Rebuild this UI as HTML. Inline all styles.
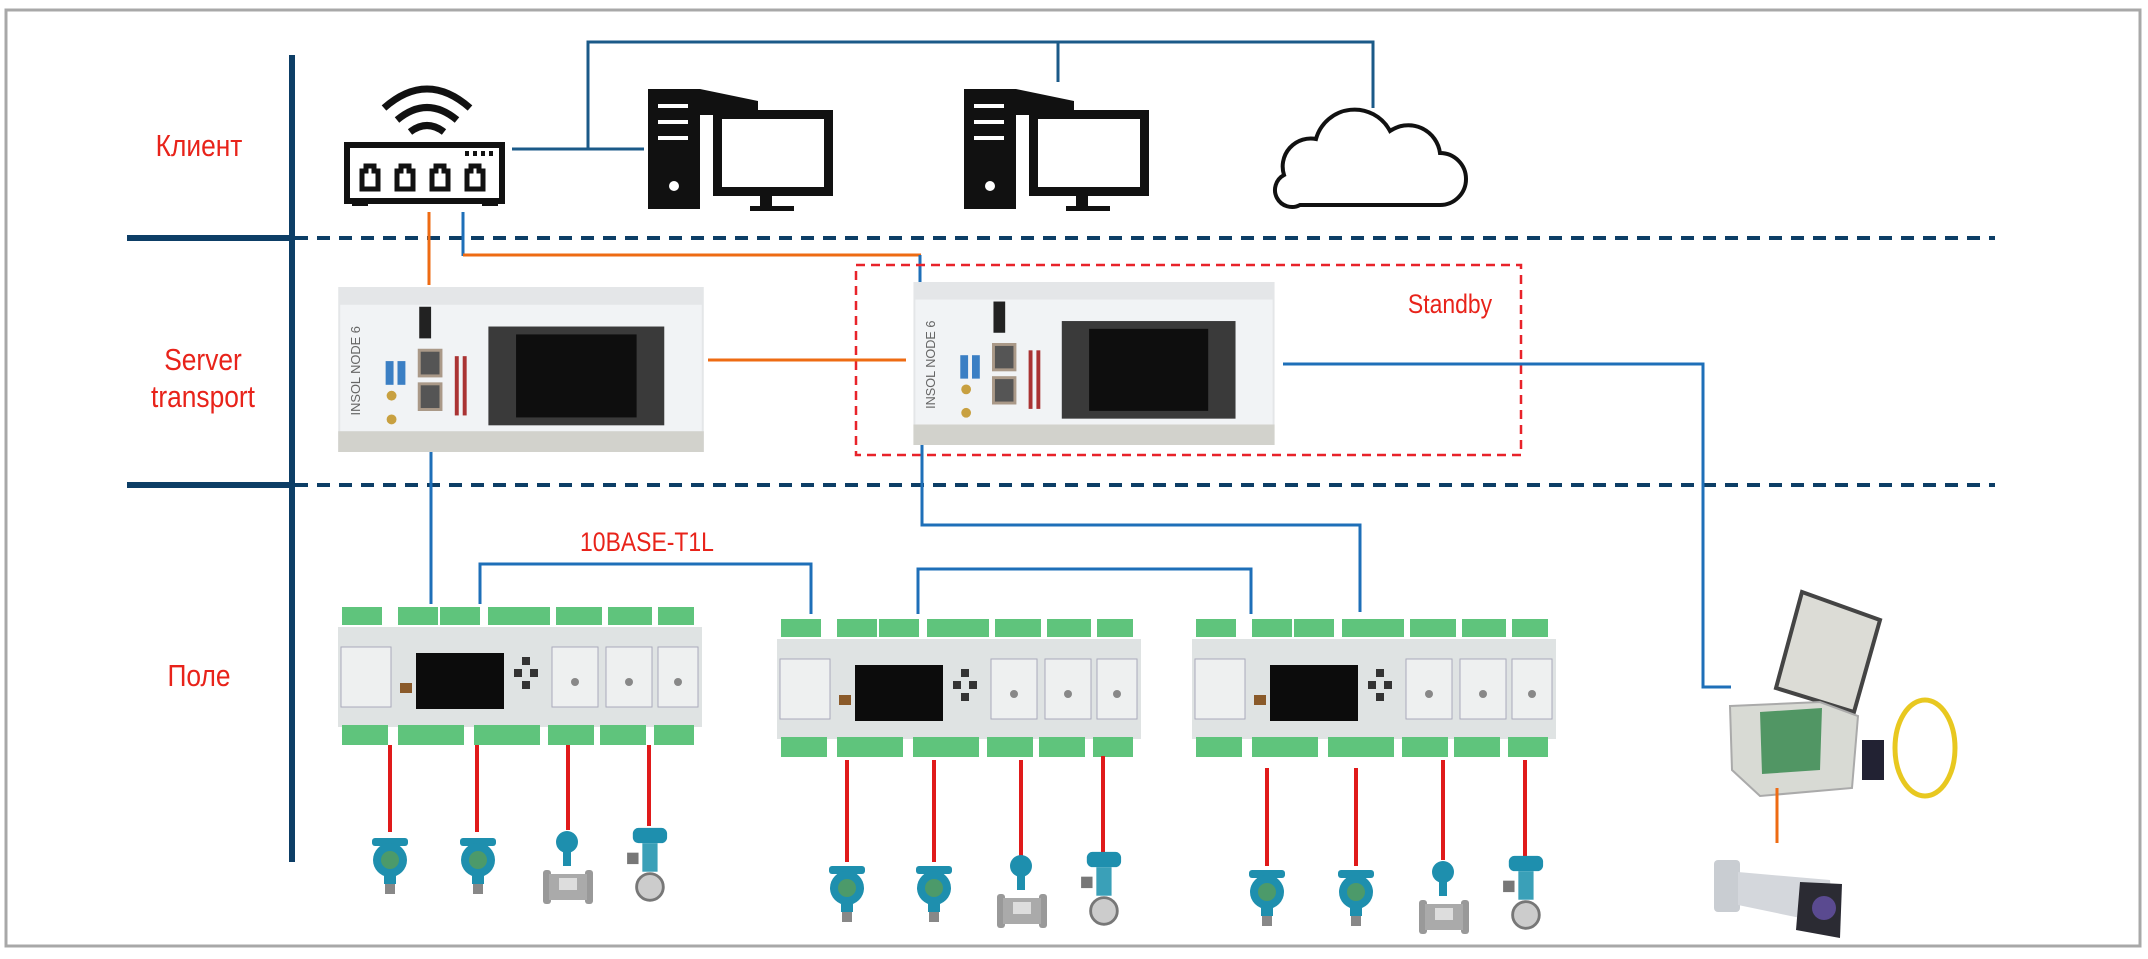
<!DOCTYPE html>
<html><head><meta charset="utf-8"><style>
html,body{margin:0;padding:0;background:#fff}
svg{display:block}
.lbl{font-family:"Liberation Sans",sans-serif;fill:#e8231a;font-size:31px}
</style></head><body>
<svg width="2148" height="959" viewBox="0 0 2148 959" xmlns="http://www.w3.org/2000/svg">
<defs>
<symbol id="plc" viewBox="0 0 364 140">
  <rect x="0" y="20" width="364" height="100" fill="#dfe3e3"/>
  <g fill="#5fc47c">
    <rect x="4" y="0" width="40" height="18"/><rect x="60" y="0" width="40" height="18"/><rect x="102" y="0" width="40" height="18"/>
    <rect x="150" y="0" width="62" height="18"/><rect x="218" y="0" width="46" height="18"/><rect x="270" y="0" width="44" height="18"/><rect x="320" y="0" width="36" height="18"/>
    <rect x="4" y="118" width="46" height="20"/><rect x="60" y="118" width="66" height="20"/><rect x="136" y="118" width="66" height="20"/>
    <rect x="210" y="118" width="46" height="20"/><rect x="262" y="118" width="46" height="20"/><rect x="316" y="118" width="40" height="20"/>
  </g>
  <g fill="#eef0f0" stroke="#aab" stroke-width="1">
    <rect x="3" y="40" width="50" height="60"/><rect x="214" y="40" width="46" height="60"/><rect x="268" y="40" width="46" height="60"/><rect x="320" y="40" width="40" height="60"/>
  </g>
  <rect x="78" y="46" width="88" height="56" fill="#0c0c0c"/>
  <g fill="#333"><rect x="184" y="50" width="8" height="8"/><rect x="176" y="62" width="8" height="8"/><rect x="192" y="62" width="8" height="8"/><rect x="184" y="74" width="8" height="8"/></g>
  <rect x="62" y="76" width="12" height="10" fill="#8a5a2a"/>
  <g fill="#888"><circle cx="237" cy="75" r="4"/><circle cx="291" cy="75" r="4"/><circle cx="340" cy="75" r="4"/></g>
</symbol>
<symbol id="trans" viewBox="0 0 44 64">
  <rect x="4" y="6" width="36" height="8" rx="3" fill="#1e8fae"/>
  <circle cx="22" cy="28" r="17" fill="#1e8fae"/><circle cx="22" cy="28" r="9" fill="#4c9a6a"/>
  <rect x="16" y="44" width="12" height="8" fill="#1e8fae"/><rect x="17" y="52" width="10" height="10" fill="#888"/>
</symbol>
<symbol id="flow" viewBox="0 0 56 80">
  <circle cx="26" cy="14" r="11" fill="#1e8fae"/><rect x="22" y="24" width="8" height="14" fill="#1e8fae"/>
  <rect x="2" y="42" width="8" height="34" rx="3" fill="#999"/><rect x="44" y="42" width="8" height="34" rx="3" fill="#999"/>
  <rect x="8" y="46" width="38" height="26" fill="#aaa"/><rect x="18" y="50" width="18" height="12" fill="#ddd"/>
</symbol>
<symbol id="valve" viewBox="0 0 50 84">
  <rect x="8" y="2" width="36" height="16" rx="6" fill="#1e8fae"/><rect x="18" y="18" width="16" height="30" fill="#3aa0b8"/>
  <rect x="2" y="28" width="12" height="12" fill="#777"/><circle cx="26" cy="64" r="14" fill="#ccc" stroke="#777" stroke-width="3"/>
</symbol>
<symbol id="server" viewBox="0 0 370 167">
  <rect x="0" y="0" width="370" height="167" fill="#e4e6e8"/>
  <rect x="2" y="18" width="366" height="128" fill="#f1f3f5"/>
  <rect x="0" y="146" width="370" height="21" fill="#d2d2cc"/>
  <text x="22" y="130" transform="rotate(-90 22 130)" font-family="Liberation Sans,sans-serif" font-size="13" fill="#666">INSOL NODE 6</text>
  <rect x="82" y="20" width="12" height="32" fill="#222"/>
  <rect x="48" y="75" width="8" height="24" fill="#3b7fc4"/><rect x="60" y="75" width="8" height="24" fill="#3b7fc4"/>
  <rect x="82" y="64" width="22" height="26" fill="#555" stroke="#a98" stroke-width="3"/>
  <rect x="82" y="98" width="22" height="26" fill="#555" stroke="#a98" stroke-width="3"/>
  <circle cx="54" cy="110" r="5" fill="#c8a040"/><circle cx="54" cy="134" r="5" fill="#c8a040"/>
  <g fill="#a33"><rect x="118" y="70" width="4" height="60"/><rect x="126" y="70" width="4" height="60"/></g>
  <rect x="152" y="40" width="178" height="100" fill="#3a3a3a"/>
  <rect x="180" y="48" width="122" height="84" fill="#0e0e0e"/>
</symbol>
</defs>

<rect x="6" y="10" width="2134" height="936" fill="#fff" stroke="#a8a8a8" stroke-width="3"/>

<line x1="292" y1="55" x2="292" y2="862" stroke="#0d3e66" stroke-width="6"/>
<line x1="127" y1="238" x2="292" y2="238" stroke="#0d3e66" stroke-width="6"/>
<line x1="127" y1="485" x2="292" y2="485" stroke="#0d3e66" stroke-width="6"/>
<line x1="295" y1="238" x2="1995" y2="238" stroke="#0d3e66" stroke-width="4" stroke-dasharray="13,9"/>
<line x1="295" y1="485" x2="1995" y2="485" stroke="#0d3e66" stroke-width="4" stroke-dasharray="13,9"/>

<text class="lbl" x="199" y="156" text-anchor="middle" transform="translate(199 0) scale(0.85 1) translate(-199 0)">Клиент</text>
<text class="lbl" x="203" y="370" text-anchor="middle" transform="translate(203 0) scale(0.85 1) translate(-203 0)">Server</text>
<text class="lbl" x="203" y="407" text-anchor="middle" transform="translate(203 0) scale(0.85 1) translate(-203 0)">transport</text>
<text class="lbl" x="199" y="686" text-anchor="middle" transform="translate(199 0) scale(0.85 1) translate(-199 0)">Поле</text>

<g stroke="#1b5a88" stroke-width="3" fill="none">
  <polyline points="512,149 644,149"/>
  <polyline points="588,149 588,42 1373,42 1373,108"/>
  <line x1="1058" y1="42" x2="1058" y2="82"/>
</g>

<g>
  <path d="M384 108 q43 -38 86 0" stroke="#111" stroke-width="7" fill="none"/>
  <path d="M397 120 q30 -25 60 0" stroke="#111" stroke-width="7" fill="none"/>
  <path d="M410 132 q17 -13 34 0" stroke="#111" stroke-width="7" fill="none"/>
  <rect x="347" y="145" width="155" height="56" fill="#fff" stroke="#111" stroke-width="6"/>
  <rect x="352" y="200" width="16" height="6" fill="#111"/><rect x="482" y="200" width="16" height="6" fill="#111"/>
  <g fill="#111"><rect x="465" y="151" width="4" height="5"/><rect x="473" y="151" width="4" height="5"/><rect x="481" y="151" width="4" height="5"/><rect x="489" y="151" width="4" height="5"/></g>
  <g fill="none" stroke="#111" stroke-width="5">
    <path d="M362 189 v-18 h4 v-5 h8 v5 h4 v18 z"/><path d="M397 189 v-18 h4 v-5 h8 v5 h4 v18 z"/>
    <path d="M432 189 v-18 h4 v-5 h8 v5 h4 v18 z"/><path d="M467 189 v-18 h4 v-5 h8 v5 h4 v18 z"/>
  </g>
</g>

<g id="pc1">
  <rect x="648" y="89" width="52" height="120" fill="#111"/>
  <polygon points="700,89 758,101 758,115 700,115" fill="#111"/>
  <rect x="713" y="110" width="120" height="86" fill="#111"/><rect x="722" y="119" width="102" height="68" fill="#fff"/>
  <rect x="760" y="196" width="12" height="12" fill="#111"/><rect x="750" y="206" width="44" height="5" fill="#111"/>
  <g fill="#fff"><rect x="658" y="104" width="30" height="4"/><rect x="658" y="120" width="30" height="4"/><rect x="658" y="136" width="30" height="4"/><circle cx="674" cy="186" r="5"/></g>
</g>
<use href="#pc1" transform="translate(316 0)"/>

<path d="M1300 205 h140 a26 26 0 0 0 0 -52 a32 32 0 0 0 -50 -22 a40 40 0 0 0 -74 8 a28 28 0 0 0 -32 36 a16 16 0 0 0 16 30 z" fill="#fff" stroke="#111" stroke-width="4"/>

<line x1="429" y1="212" x2="429" y2="285" stroke="#ee6b13" stroke-width="3"/>
<line x1="463" y1="212" x2="463" y2="256" stroke="#1e6fb8" stroke-width="3"/>
<line x1="463" y1="255" x2="921" y2="255" stroke="#ee6b13" stroke-width="3"/>
<line x1="920" y1="255" x2="920" y2="290" stroke="#1e6fb8" stroke-width="3"/>

<use href="#server" x="336" y="287" width="370" height="165"/>
<use href="#server" x="908" y="282" width="372" height="163"/>
<rect x="856" y="265" width="665" height="190" fill="none" stroke="#e8232a" stroke-width="2.5" stroke-dasharray="9,6"/>
<text x="1450" y="313" class="lbl" style="font-size:27px" text-anchor="middle" transform="translate(1450 0) scale(0.85 1) translate(-1450 0)">Standby</text>
<line x1="708" y1="360" x2="906" y2="360" stroke="#ee6b13" stroke-width="3"/>

<g stroke="#1e6fb8" stroke-width="3" fill="none">
  <polyline points="1283,364 1703,364 1703,687 1731,687"/>
  <line x1="431" y1="452" x2="431" y2="604"/>
  <polyline points="922,445 922,525 1360,525 1360,612"/>
  <polyline points="480,604 480,564 811,564 811,614"/>
  <polyline points="918,614 918,569 1251,569 1251,614"/>
</g>
<text x="647" y="551" class="lbl" style="font-size:27px" text-anchor="middle" transform="translate(647 0) scale(0.85 1) translate(-647 0)">10BASE-T1L</text>

<use href="#plc" x="338" y="607" width="364" height="140"/>
<use href="#plc" x="777" y="618" width="364" height="142"/>
<use href="#plc" x="1192" y="618" width="364" height="142"/>

<g stroke="#e01a1a" stroke-width="4">
  <line x1="390" y1="745" x2="390" y2="832"/><line x1="477" y1="745" x2="477" y2="832"/>
  <line x1="568" y1="745" x2="568" y2="830"/><line x1="649" y1="745" x2="649" y2="826"/>
  <line x1="847" y1="760" x2="847" y2="862"/><line x1="934" y1="760" x2="934" y2="862"/>
  <line x1="1021" y1="760" x2="1021" y2="856"/><line x1="1103" y1="756" x2="1103" y2="852"/>
  <line x1="1267" y1="768" x2="1267" y2="866"/><line x1="1356" y1="768" x2="1356" y2="866"/>
  <line x1="1443" y1="760" x2="1443" y2="860"/><line x1="1525" y1="760" x2="1525" y2="856"/>
</g>

<use href="#trans" x="368" y="832" width="44" height="64"/>
<use href="#trans" x="456" y="832" width="44" height="64"/>
<use href="#flow" x="541" y="828" width="56" height="80"/>
<use href="#valve" x="624" y="826" width="50" height="80"/>
<use href="#trans" x="825" y="860" width="44" height="64"/>
<use href="#trans" x="912" y="860" width="44" height="64"/>
<use href="#flow" x="995" y="852" width="56" height="80"/>
<use href="#valve" x="1078" y="850" width="50" height="80"/>
<use href="#trans" x="1245" y="864" width="44" height="64"/>
<use href="#trans" x="1334" y="864" width="44" height="64"/>
<use href="#flow" x="1417" y="858" width="56" height="80"/>
<use href="#valve" x="1500" y="854" width="50" height="80"/>

<g>
  <polygon points="1802,592 1880,620 1854,712 1776,688" fill="#dcdcd6" stroke="#444" stroke-width="4"/>
  <polygon points="1730,706 1820,702 1858,716 1852,788 1760,796 1732,770" fill="#d8dad4" stroke="#aaa" stroke-width="2"/>
  <polygon points="1760,712 1822,708 1820,770 1762,774" fill="#3a8a50" opacity="0.85"/>
  <ellipse cx="1925" cy="748" rx="30" ry="48" fill="none" stroke="#e8c820" stroke-width="5"/>
  <rect x="1862" y="740" width="22" height="40" fill="#223"/>
</g>
<line x1="1777" y1="788" x2="1777" y2="843" stroke="#ee6b13" stroke-width="3"/>

<g>
  <rect x="1714" y="860" width="26" height="52" rx="4" fill="#c9cdd2"/>
  <polygon points="1738,872 1830,880 1834,925 1738,905" fill="#d4d7dc"/>
  <polygon points="1800,882 1842,884 1840,938 1796,930" fill="#2b2b33"/>
  <circle cx="1824" cy="908" r="12" fill="#5a4a90"/>
</g>
</svg>
</body></html>
